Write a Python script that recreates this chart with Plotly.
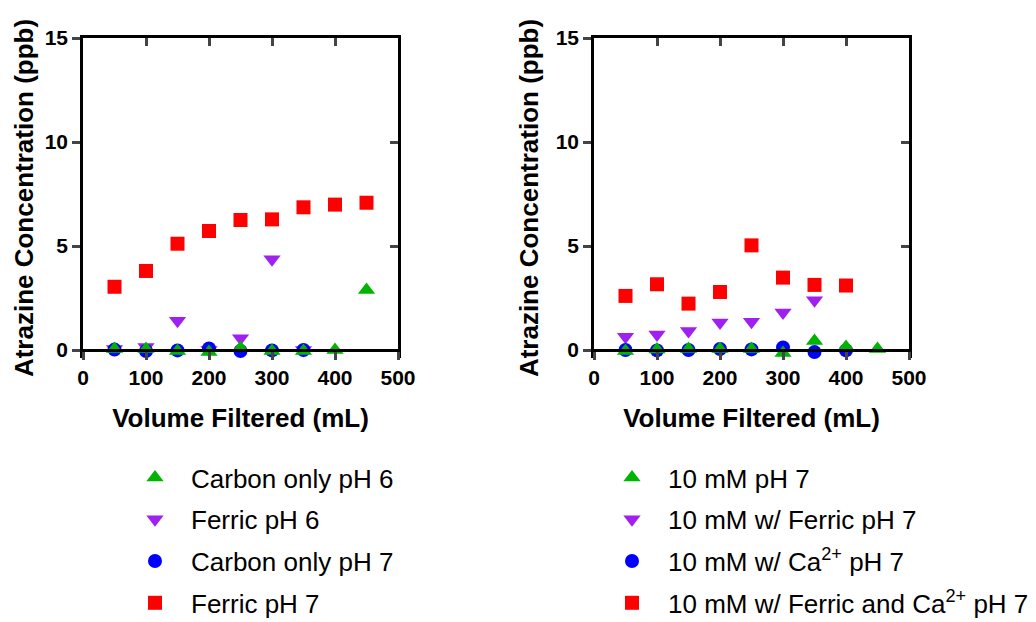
import plotly.graph_objects as go

# Left panel: pH 6 / pH 7 columns (volume filtered in mL, atrazine in ppb)
carbon_ph6_x = [50, 100, 150, 200, 250, 300, 350, 400, 450]
carbon_ph6_y = [0.05, 0.05, -0.05, -0.1, 0.1, -0.05, -0.05, 0.0, 2.88]
ferric_ph6_x = [50, 100, 150, 200, 250, 300, 350]
ferric_ph6_y = [0.05, 0.15, 1.41, 0.0, 0.56, 4.36, 0.0]
carbon_ph7_x = [50, 100, 150, 200, 250, 300, 350]
carbon_ph7_y = [0.02, -0.05, -0.02, 0.07, -0.05, -0.02, 0.0]
ferric_ph7_x = [50, 100, 150, 200, 250, 300, 350, 400, 450]
ferric_ph7_y = [3.04, 3.8, 5.11, 5.72, 6.25, 6.28, 6.86, 6.99, 7.08]

# Right panel: 10 mM ionic strength columns
mm10_x = [50, 100, 150, 200, 250, 300, 350, 400, 450]
mm10_y = [-0.05, 0.02, 0.05, 0.05, 0.05, -0.15, 0.43, 0.15, 0.05]
mm10_fe_x = [50, 100, 150, 200, 250, 300, 350]
mm10_fe_y = [0.64, 0.75, 0.91, 1.32, 1.36, 1.8, 2.39]
mm10_ca_x = [50, 100, 150, 200, 250, 300, 350, 400]
mm10_ca_y = [0.0, -0.02, 0.0, 0.05, 0.03, 0.12, -0.1, -0.02]
mm10_feca_x = [50, 100, 150, 200, 250, 300, 350, 400]
mm10_feca_y = [2.6, 3.16, 2.23, 2.79, 5.03, 3.48, 3.13, 3.1]

x_ticks = [0, 100, 200, 300, 400, 500]
y_ticks = [0, 5, 10, 15]

GREEN = "#00B400"
PURPLE = "#A020F0"
BLUE = "#0000FF"
RED = "#FF0000"

FONT = "Liberation Sans, Arial, sans-serif"

# page geometry of the two framed plot areas (pixels)
W, H = 1036, 622
Y_TOP, Y_ZERO = 38, 350
Y_MAX = 15
TICKLEN = 8
px_per_unit = (Y_ZERO - Y_TOP) / Y_MAX
# the value axis reaches one tick length below zero, so markers sitting at ~0 stay visible
Y_PAD = TICKLEN / px_per_unit

xdom1 = [83 / W, 398 / W]
xdom2 = [594 / W, 909 / W]
ydom = [(H - Y_ZERO - TICKLEN) / H, (H - Y_TOP) / H]
x_axis_pos = (H - Y_ZERO) / H

fig = go.Figure()


def add(x, y, name, color, symbol, size, xa, ya, legend, rank):
    fig.add_trace(go.Scatter(
        x=x, y=y, mode="markers", name=name,
        marker=dict(color=color, symbol=symbol, size=size, line=dict(width=0)),
        xaxis=xa, yaxis=ya, legend=legend, legendrank=rank,
        cliponaxis=False, legendgroup=name,
    ))


# draw order (bottom to top): squares, down-triangles, circles, up-triangles
add(ferric_ph7_x, ferric_ph7_y, "Ferric pH 7", RED, "square", 14, "x", "y", "legend", 4)
add(ferric_ph6_x, ferric_ph6_y, "Ferric pH 6", PURPLE, "triangle-down", 15, "x", "y", "legend", 2)
add(carbon_ph7_x, carbon_ph7_y, "Carbon only pH 7", BLUE, "circle", 14, "x", "y", "legend", 3)
add(carbon_ph6_x, carbon_ph6_y, "Carbon only pH 6", GREEN, "triangle-up", 15, "x", "y", "legend", 1)

add(mm10_feca_x, mm10_feca_y, "10 mM w/ Ferric and Ca<sup>2+</sup> pH 7", RED, "square", 14, "x2", "y2", "legend2", 4)
add(mm10_fe_x, mm10_fe_y, "10 mM w/ Ferric pH 7", PURPLE, "triangle-down", 15, "x2", "y2", "legend2", 2)
add(mm10_ca_x, mm10_ca_y, "10 mM w/ Ca<sup>2+</sup> pH 7", BLUE, "circle", 14, "x2", "y2", "legend2", 3)
add(mm10_x, mm10_y, "10 mM pH 7", GREEN, "triangle-up", 15, "x2", "y2", "legend2", 1)

# empty traces so the mirrored frame axes (top / right) get drawn
for xa, ya in (("x3", "y3"), ("x4", "y4")):
    fig.add_trace(go.Scatter(x=[None], y=[None], xaxis=xa, yaxis=ya, mode="markers",
                             showlegend=False, hoverinfo="skip"))

tick_font = dict(family=FONT, size=21, color="black", weight="bold")
title_font = dict(family=FONT, size=26, color="black", weight="bold")

line = dict(showline=True, linewidth=2.5, linecolor="black", showgrid=False, zeroline=False,
            automargin=False)


def xbase():
    return dict(range=[0, 500], tickvals=x_ticks, ticks="outside", ticklen=TICKLEN, tickwidth=2.5,
                tickfont=tick_font, anchor="free", position=x_axis_pos,
                title=dict(text="Volume Filtered (mL)", font=title_font, standoff=20), **line)


def ybase(standoff):
    return dict(range=[-Y_PAD, Y_MAX], tickvals=y_ticks, ticks="outside", ticklen=TICKLEN, tickwidth=2.5,
                tickfont=tick_font,
                title=dict(text="Atrazine Concentration (ppb)", font=title_font, standoff=standoff), **line)


# inward ticks on the top and right edges of each frame
xtop = dict(range=[0, 500], tickvals=[100, 200, 300, 400], ticks="inside", ticklen=TICKLEN, tickwidth=2.5,
            showticklabels=False, side="top", **line)
yright = dict(range=[-Y_PAD, Y_MAX], tickvals=[5, 10], ticks="inside", ticklen=TICKLEN, tickwidth=2.5,
              showticklabels=False, side="right", **line)

legend_font = dict(family=FONT, size=26, color="black")
legend_common = dict(xanchor="left", yanchor="bottom", y=-5 / H, font=legend_font, tracegroupgap=5,
                     itemwidth=62, bgcolor="rgba(0,0,0,0)")

fig.update_layout(
    width=W, height=H,
    margin=dict(l=0, r=0, t=0, b=0, autoexpand=False),
    paper_bgcolor="white", plot_bgcolor="rgba(0,0,0,0)",
    showlegend=True,
    xaxis=dict(domain=xdom1, **xbase()),
    yaxis=dict(domain=ydom, anchor="x", **ybase(4)),
    xaxis2=dict(domain=xdom2, **xbase()),
    yaxis2=dict(domain=ydom, anchor="x2", **ybase(10)),
    xaxis3=dict(overlaying="x", anchor="y", **xtop),
    yaxis3=dict(overlaying="y", anchor="x", **yright),
    xaxis4=dict(overlaying="x2", anchor="y2", **xtop),
    yaxis4=dict(overlaying="y2", anchor="x2", **yright),
    legend=dict(x=119 / W, **legend_common),
    legend2=dict(x=596 / W, **legend_common),
)

fig.write_html("out.html")
